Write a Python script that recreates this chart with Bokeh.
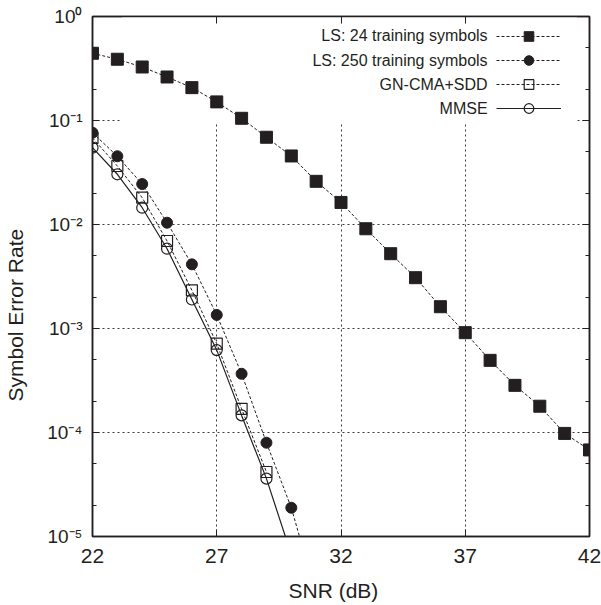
from bokeh.plotting import figure
from bokeh.models import (FixedTicker, LinearAxis, LogAxis, Legend, LegendItem,
                          Label, BoxAnnotation, Title)
from bokeh.embed import file_html
from bokeh.resources import INLINE

# ---------------- data ----------------
snr_ls24 = list(range(22, 43))
ser_ls24 = [0.443, 0.388, 0.327, 0.262, 0.207, 0.151, 0.105, 0.069, 0.0456,
            0.026, 0.0163, 0.0091, 0.00524, 0.00308, 0.00162, 0.000912,
            0.000494, 0.000284, 0.000179, 9.8e-5, 6.8e-5]

snr_ls250 = [22, 23, 24, 25, 26, 27, 28, 29, 30, 31]
ser_ls250 = [0.0763, 0.0453, 0.0245, 0.0104, 0.00414, 0.00135, 3.67e-4,
             7.98e-5, 1.89e-5, 2.75e-6]

snr_gn = [22, 23, 24, 25, 26, 27, 28, 29]
ser_gn = [0.068, 0.0365, 0.0181, 0.00694, 0.00233, 7.14e-4, 1.69e-4, 4.17e-5]

snr_mmse = [22, 23, 24, 25, 26, 27, 28, 29, 30]
ser_mmse = [0.0548, 0.0304, 0.0145, 0.00585, 0.0019, 6.2e-4, 1.46e-4, 3.6e-5,
            6.7e-6]

series_names = ["LS: 24 training symbols", "LS: 250 training symbols",
                "GN-CMA+SDD", "MMSE"]

x_title = "SNR (dB)"
y_title = "Symbol Error Rate"

x_ticks = [22, 27, 32, 37, 42]
x_grid = [27, 32, 37]
y_ticks = [1e-5, 1e-4, 1e-3, 1e-2, 1e-1, 1]
y_minor = [m * 10.0 ** k for k in range(-5, 0) for m in (2, 5)]
y_tick_labels = ["10\u207b\u2075", "10\u207b\u2074", "10\u207b\u00b3",
                 "10\u207b\u00b2", "10\u207b\u00b9", "10\u2070"]

# ---------------- styling ----------------
INK = "#231f20"
FONT = "Liberation Sans"

p = figure(width=601, height=605, x_range=(22, 42), y_range=(1e-5, 1),
           y_axis_type="log", output_backend="svg", toolbar_location=None,
           min_border_left=92, min_border_right=12, min_border_top=16,
           min_border_bottom=69)
p.background_fill_color = "white"
p.border_fill_color = "white"
p.outline_line_color = INK
p.outline_line_width = 1.5

bottom_ax = p.below[0]
left_ax = p.left[0]

# grids
p.xgrid.ticker = FixedTicker(ticks=x_grid)
p.ygrid.ticker = FixedTicker(ticks=y_ticks[1:-1])
for g in (p.xgrid[0], p.ygrid[0]):
    g.grid_line_color = "#3a3a3a"
    g.grid_line_width = 1
    g.grid_line_dash = "2 3"

# white key background (hides grid under the key area, behind the data)
key_bg = BoxAnnotation(left=23.19, right=41.5, bottom=0.0967,
                       fill_color="white", fill_alpha=1.0, line_alpha=0,
                       level="underlay")
p.add_layout(key_bg)

# mirrored axes (ticks only)
top_ax = LinearAxis()
right_ax = LogAxis()
p.add_layout(top_ax, "above")
p.add_layout(right_ax, "right")

xt = FixedTicker(ticks=x_ticks)
yt = FixedTicker(ticks=y_ticks, minor_ticks=y_minor)

def style_axis(ax):
    ax.axis_line_color = INK
    ax.axis_line_width = 1.5
    ax.major_tick_line_color = INK
    ax.major_tick_line_width = 1
    ax.major_tick_in = 7
    ax.major_tick_out = 0
    ax.minor_tick_line_color = INK
    ax.minor_tick_line_width = 1
    ax.minor_tick_in = 4
    ax.minor_tick_out = 0
    ax.major_label_text_font = FONT
    ax.major_label_text_color = INK

for ax in (bottom_ax, top_ax):
    ax.ticker = xt
    style_axis(ax)
for ax in (left_ax, right_ax):
    ax.ticker = yt
    style_axis(ax)

bottom_ax.major_label_text_font_size = "21px"
bottom_ax.major_label_standoff = 12
left_ax.major_label_text_font_size = "19px"
left_ax.major_label_standoff = 10
left_ax.major_label_overrides = dict(zip(y_ticks, y_tick_labels))

top_ax.major_label_overrides = {t: "" for t in x_ticks}
top_ax.major_label_standoff = 0
right_ax.major_label_overrides = {t: "" for t in y_ticks}
right_ax.major_label_standoff = 0

# invisible spacer axes: push the axis titles outward like the reference
def spacer_axis(tick, gap):
    ax = LinearAxis(ticker=FixedTicker(ticks=[tick]))
    ax.axis_line_alpha = 0
    ax.major_tick_line_alpha = 0
    ax.minor_tick_line_alpha = 0
    ax.major_tick_in = 0
    ax.major_tick_out = gap
    ax.minor_tick_in = 0
    ax.minor_tick_out = 0
    ax.major_label_standoff = 0
    ax.major_label_text_font_size = "1px"
    ax.major_label_text_alpha = 0
    ax.major_label_overrides = {tick: ""}
    return ax

p.add_layout(spacer_axis(32, 13), "below")
p.add_layout(spacer_axis(0.5, 18), "left")

# axis titles as side titles (offset matches the reference placement)
x_title_obj = Title(text=x_title, align="left", offset=196, standoff=0,
                    vertical_align="top",
                    text_font=FONT, text_font_size="21px",
                    text_font_style="normal", text_color=INK)
y_title_obj = Title(text=y_title, align="left", offset=135, standoff=0,
                    vertical_align="bottom",
                    text_font=FONT, text_font_size="21px",
                    text_font_style="normal", text_color=INK)
p.add_layout(x_title_obj, "below")
p.add_layout(y_title_obj, "left")

# ---------------- series ----------------
l1 = p.line(snr_ls24, ser_ls24, line_color=INK, line_width=1, line_dash="3 2")
m1 = p.scatter(snr_ls24, ser_ls24, marker="square", size=12,
               fill_color=INK, line_color=INK)

l2 = p.line(snr_ls250, ser_ls250, line_color=INK, line_width=1, line_dash="3 2")
m2 = p.scatter(snr_ls250, ser_ls250, marker="circle", size=11,
               fill_color=INK, line_color=INK)

l3 = p.line(snr_gn, ser_gn, line_color=INK, line_width=1, line_dash="3 2")
m3 = p.scatter(snr_gn, ser_gn, marker="square", size=11,
               fill_color=None, line_color=INK, line_width=1.2)

l4 = p.line(snr_mmse, ser_mmse, line_color=INK, line_width=1.2)
m4 = p.scatter(snr_mmse, ser_mmse, marker="circle", size=11,
               fill_color=None, line_color=INK, line_width=1.2)

# ---------------- key: sample on the right, text right-aligned ----------------
legend = Legend(items=[LegendItem(label=" ", renderers=[l1, m1]),
                       LegendItem(label=" ", renderers=[l2, m2]),
                       LegendItem(label=" ", renderers=[l3, m3]),
                       LegendItem(label=" ", renderers=[l4, m4])],
                location="top_right", margin=8, padding=0, spacing=0,
                glyph_width=65, glyph_height=24, label_height=24,
                label_width=20, label_standoff=0,
                background_fill_alpha=0, border_line_alpha=0,
                label_text_font_size="16px")
p.add_layout(legend)

key_text_x = 37.9
key_text_y = [0.6494, 0.3793, 0.2209, 0.129]
for name, ky in zip(series_names, key_text_y):
    p.add_layout(Label(x=key_text_x, y=ky, text=name, text_align="right",
                       text_baseline="middle", text_font=FONT,
                       text_font_size="16px", text_color=INK))

open("out.html", "w").write(file_html(p, INLINE))
